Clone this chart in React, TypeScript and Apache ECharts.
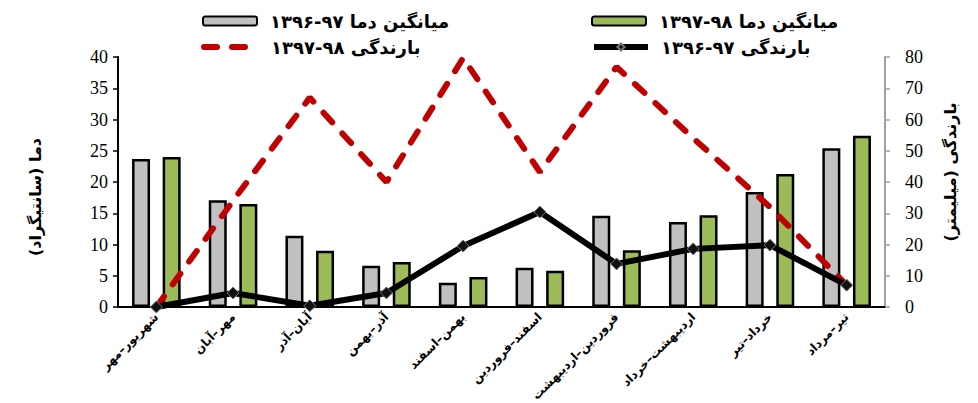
import React, { useEffect, useRef } from "react";
import * as echarts from "echarts";

const categories = [
  "شهریور–مهر",
  "مهر–آبان",
  "آبان–آذر",
  "آذر–بهمن",
  "بهمن–اسفند",
  "اسفند–فروردین",
  "فروردین–اردیبهشت",
  "اردیبهشت–خرداد",
  "خرداد–تیر",
  "تیر–مرداد",
];
const temp9697 = [23.7, 17.1, 11.4, 6.6, 3.9, 6.3, 14.6, 13.6, 18.4, 25.4];
const temp9798 = [24.0, 16.5, 9.0, 7.2, 4.8, 5.8, 9.1, 14.7, 21.3, 27.4];
const rain9798 = [0, 34, 67, 40, 79.7, 43.2, 76.8, 54, 32, 7.0];
const rain9697 = [0, 4.5, 0.4, 4.5, 19.5, 30.4, 13.8, 18.6, 19.8, 7.0];

const nameT96 = "میانگین دما ۹۷-۱۳۹۶";
const nameT97 = "میانگین دما ۹۸-۱۳۹۷";
const nameR97 = "بارندگی ۹۸-۱۳۹۷";
const nameR96 = "بارندگی ۹۷-۱۳۹۶";
const leftAxisTitle = "دما (سانتیگراد)";
const rightAxisTitle = "بارندگی (میلیمتر)";

const AR_FONT = "'DejaVu Sans', 'Noto Sans', sans-serif";
const NUM_FONT = "'Liberation Serif', 'DejaVu Serif', serif";

export default function App() {
  const ref = useRef<HTMLDivElement>(null);
  useEffect(() => {
    if (!ref.current) return;
    const chart = echarts.init(ref.current, undefined, { renderer: "svg" });
    const legendText = {
      fontFamily: AR_FONT,
      fontWeight: "bold" as const,
      fontSize: 18,
      color: "#000",
      padding: [0, 0, 0, 8],
    };
    const legendBase = {
      itemWidth: 54,
      itemHeight: 9,
      itemGap: 10,
      textStyle: legendText,
      selectedMode: false,
      lineStyle: { width: 6 },
    };
    chart.setOption({
      animation: false,
      backgroundColor: "#fff",
      legend: [
        { ...legendBase, data: [nameT96], left: 197, top: 7 },
        { ...legendBase, data: [nameT97], left: 586, top: 7 },
        { ...legendBase, data: [{ name: nameR97, itemStyle: { opacity: 0 } }], left: 196, top: 33 },
        { ...legendBase, data: [nameR96], left: 586, top: 33 },
      ],
      grid: {
        left: 118,
        right: 93,
        top: 57,
        bottom: 96,
        containLabel: false,
        outerBoundsMode: "none",
      },
      xAxis: {
        type: "category",
        data: categories,
        axisLine: { lineStyle: { color: "#000", width: 2 } },
        axisTick: { alignWithLabel: true, length: 4, lineStyle: { color: "#000", width: 2 } },
        axisLabel: {
          interval: 0,
          rotate: 45,
          fontFamily: AR_FONT,
          fontWeight: "bold",
          fontSize: 12,
          color: "#000",
          margin: 8,
        },
      },
      yAxis: [
        {
          type: "value",
          min: 0,
          max: 40,
          interval: 5,
          position: "left",
          splitLine: { show: false },
          axisLine: { show: true, lineStyle: { color: "#000", width: 2 } },
          axisTick: { show: true, length: 5, lineStyle: { color: "#000", width: 1.5 } },
          axisLabel: { fontFamily: NUM_FONT, fontSize: 18, color: "#000", margin: 10 },
          name: leftAxisTitle,
          nameLocation: "middle",
          nameGap: 75,
          nameRotate: 90,
          nameTextStyle: {
            fontFamily: AR_FONT,
            fontWeight: "bold",
            fontSize: 16,
            color: "#000",
            padding: [0, 30, 0, 0],
          },
        },
        {
          type: "value",
          min: 0,
          max: 80,
          interval: 10,
          position: "right",
          splitLine: { show: false },
          axisLine: { show: true, lineStyle: { color: "#a0a0a0", width: 2 } },
          axisTick: { show: true, length: 5, lineStyle: { color: "#a0a0a0", width: 1.5 } },
          axisLabel: { fontFamily: NUM_FONT, fontSize: 18, color: "#000", margin: 20 },
          name: rightAxisTitle,
          nameLocation: "middle",
          nameGap: 57,
          nameRotate: 90,
          nameTextStyle: {
            fontFamily: AR_FONT,
            fontWeight: "bold",
            fontSize: 16,
            color: "#000",
            padding: [0, 0, 0, 20],
          },
        },
      ],
      series: [
        {
          name: nameT96,
          type: "bar",
          yAxisIndex: 0,
          data: temp9697,
          barWidth: 18,
          barGap: "70%",
          itemStyle: { color: "#c0c0c0", borderColor: "#000", borderWidth: 2.5 },
        },
        {
          name: nameT97,
          type: "bar",
          yAxisIndex: 0,
          data: temp9798,
          barWidth: 18,
          barGap: "70%",
          itemStyle: { color: "#9bbb59", borderColor: "#000", borderWidth: 2.5 },
        },
        {
          name: nameR97,
          type: "line",
          yAxisIndex: 1,
          data: rain9798,
          symbol: "none",
          z: 4,
          lineStyle: { color: "#c00000", width: 6, type: [13, 15], cap: "round" },
          itemStyle: { color: "#c00000" },
        },
        {
          name: nameR96,
          type: "line",
          yAxisIndex: 1,
          data: rain9697,
          symbol: "diamond",
          symbolSize: 12,
          z: 5,
          lineStyle: { color: "#000", width: 6 },
          itemStyle: { color: "#111", borderColor: "#777", borderWidth: 1 },
        },
      ],
    });
    return () => chart.dispose();
  }, []);
  return (
    <div
      ref={ref}
      style={{ position: "fixed", left: 0, top: 0, width: 978, height: 403 }}
    />
  );
}
